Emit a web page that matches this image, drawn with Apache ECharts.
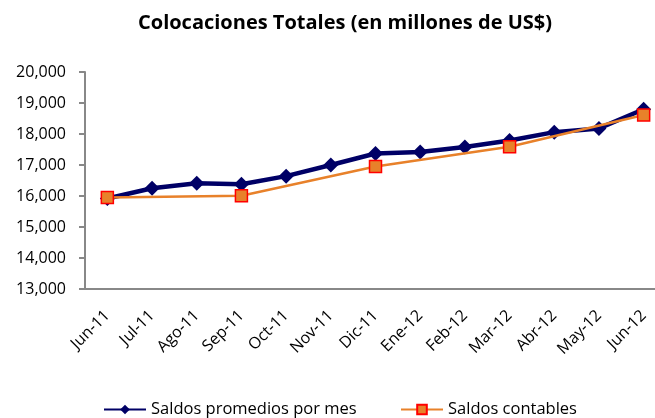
<!DOCTYPE html>
<html>
<head>
<meta charset="utf-8">
<script src="https://cdn.jsdelivr.net/npm/echarts@6/dist/echarts.min.js"></script>
<style>
  html, body { margin: 0; padding: 0; background: #fff; }
  #chart { width: 655px; height: 418px; }
</style>
</head>
<body>
<div id="chart"></div>
<script>
// datos
var meses = ['Jun-11', 'Jul-11', 'Ago-11', 'Sep-11', 'Oct-11', 'Nov-11', 'Dic-11',
  'Ene-12', 'Feb-12', 'Mar-12', 'Abr-12', 'May-12', 'Jun-12']
var saldosPromedio = [15920, 16250, 16410, 16380, 16640, 17000, 17370,
  17420, 17580, 17790, 18060, 18180, 18800]
// saldos contables solo trimestrales
var saldosContables = [15950, null, null, 16010, null, null, 16950,
  null, null, 17590, null, null, 18610]

var chart = echarts.init(document.getElementById('chart'))
var fuente = '"Open Sans", Lato, sans-serif'

chart.setOption({
  animation: false,
  backgroundColor: '#fff',
  title: {
    text: 'Colocaciones Totales (en millones de US$)',
    left: 133,
    top: 8,
    textStyle: {
      fontFamily: fuente,
      fontSize: 20,
      fontWeight: 'bold',
      color: '#000'
    }
  },
  legend: [
    {
      top: 401,
      left: 103,
      padding: 0,
      itemWidth: 42,
      itemHeight: 12,
      textStyle: { fontFamily: fuente, fontSize: 16.5, color: '#000' },
      data: ['Saldos promedios por mes']
    },
    {
      top: 401,
      left: 400,
      padding: 0,
      itemWidth: 42,
      itemHeight: 12,
      textStyle: { fontFamily: fuente, fontSize: 16.5, color: '#000' },
      data: ['Saldos contables']
    }
  ],
  grid: {
    left: 85,
    width: 581,
    top: 72,
    height: 217,
    outerBoundsMode: 'none'
  },
  xAxis: {
    type: 'category',
    data: meses,
    boundaryGap: true,
    axisLine: { lineStyle: { color: '#888', width: 2 } },
    axisTick: { length: 6, lineStyle: { color: '#888', width: 2 } },
    axisLabel: {
      rotate: 45,
      interval: 0,
      margin: 24,
      fontFamily: fuente,
      fontSize: 16,
      color: '#000'
    },
    splitLine: { show: false }
  },
  yAxis: {
    type: 'value',
    min: 13000,
    max: 20000,
    interval: 1000,
    axisLine: { show: true, lineStyle: { color: '#888', width: 2 } },
    axisTick: { show: true, length: 6, lineStyle: { color: '#888', width: 2 } },
    axisLabel: {
      margin: 19,
      fontFamily: fuente,
      fontSize: 16,
      color: '#000',
      formatter: function(v) {
        return v.toLocaleString('en-US')
      }
    },
    splitLine: { show: false }
  },
  series: [
    {
      name: 'Saldos promedios por mes',
      type: 'line',
      data: saldosPromedio,
      symbol: 'diamond',
      symbolSize: 15,
      z: 2,
      itemStyle: { color: '#000066' },
      lineStyle: { color: '#000066', width: 4.5 }
    },
    {
      name: 'Saldos contables',
      type: 'line',
      data: saldosContables,
      connectNulls: true,
      symbol: 'rect',
      symbolSize: 12,
      z: 3,
      itemStyle: { color: '#e8812a', borderColor: '#ff0000', borderWidth: 1.5 },
      lineStyle: { color: '#e8812a', width: 2.5 }
    }
  ]
})
</script>
</body>
</html>
